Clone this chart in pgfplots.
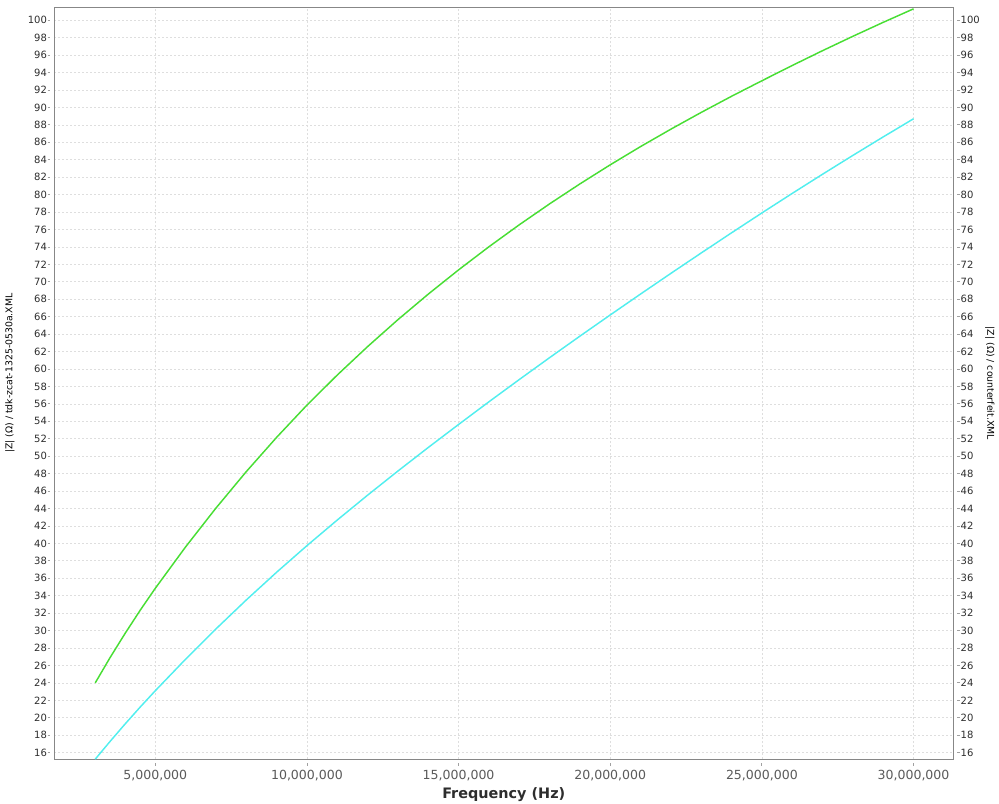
\documentclass[border=0pt]{standalone}
\usepackage{fontspec}
\setmainfont{DejaVu Sans}
\usepackage{pgfplots}
\usepackage{pgfplotstable}
\pgfplotsset{compat=1.18}
\definecolor{zgreen}{RGB}{72,222,52}
\definecolor{zcyan}{RGB}{82,238,238}
\definecolor{gridc}{RGB}{222,222,222}
\definecolor{framec}{RGB}{135,135,135}
\definecolor{axisc}{RGB}{160,160,160}
\definecolor{tickc}{RGB}{45,45,45}
\definecolor{xtickc}{RGB}{90,90,90}

\pgfplotstableread{
f z
3020000 24.0
3500000 26.85
4000000 29.65
4500000 32.32
5000000 34.85
6000000 39.60
7000000 44.05
8000000 48.23
9000000 52.16
10000000 55.86
11000000 59.31
12000000 62.57
13000000 65.66
14000000 68.59
15000000 71.37
16000000 74.02
17000000 76.54
18000000 78.94
19000000 81.23
20000000 83.42
21000000 85.51
22000000 87.51
23000000 89.43
24000000 91.28
25000000 93.06
26000000 94.81
27000000 96.51
28000000 98.16
29000000 99.76
30000000 101.31
}\greendata

\pgfplotstableread{
f z
3020000 15.25
3500000 17.25
4000000 19.27
4500000 21.22
5000000 23.10
6000000 26.72
7000000 30.19
8000000 33.51
9000000 36.69
10000000 39.74
11000000 42.68
12000000 45.53
13000000 48.30
14000000 51.00
15000000 53.64
16000000 56.24
17000000 58.79
18000000 61.30
19000000 63.77
20000000 66.20
21000000 68.60
22000000 70.97
23000000 73.31
24000000 75.62
25000000 77.90
26000000 80.14
27000000 82.34
28000000 84.50
29000000 86.62
30000000 88.70
}\cyandata

\begin{document}
\begin{tikzpicture}
\path[use as bounding box] (0,0) rectangle (749.25pt,602.25pt);
\pgfplotsset{common/.style={
  scale only axis, at={(40.7pt,32.8pt)}, anchor=south west,
  width=674.25pt, height=564pt,
  xmin=1669000, xmax=31310000, ymin=15.24, ymax=101.49,
  ytick={16,18,...,100},
  xtick={5000000,10000000,15000000,20000000,25000000,30000000},
  xticklabels={{5,000,000},{10,000,000},{15,000,000},{20,000,000},{25,000,000},{30,000,000}},
  scaled x ticks=false,
  /pgf/number format/assume math mode=true,
  tick align=outside, major tick length=2pt,
  tick style={draw=axisc, line width=0.6pt},
  yticklabel style={font=\fontsize{7.5}{9}\selectfont, text=tickc},
  xticklabel style={font=\fontsize{9.4}{11}\selectfont, text=xtickc, yshift=-3pt},
  clip=true,
}}
\begin{axis}[common,
  axis line style={draw=framec, line width=0.75pt},
  ytick pos=left, xtick pos=bottom,
  ytick style={xshift=-3pt},
  xtick style={yshift=-3pt},
  grid=major,
  major grid style={draw=gridc, dash pattern=on 1.5pt off 1.5pt, line width=0.5pt},
  xlabel={Frequency (Hz)},
  xlabel style={at={(axis description cs:0.5,-0.0475)}, anchor=center,
    font=\bfseries\fontsize{10.8}{13}\selectfont, text=tickc},
  ylabel={|Z| (Ω) / tdk-zcat-1325-0530a.XML},
  ylabel style={at={(axis description cs:-0.0493,0.5133)}, anchor=center,
    font=\fontsize{7}{8}\selectfont, text=black},
]
\addplot[zgreen, line width=1.1pt] table[x=f, y=z] {\greendata};
\draw[axisc, line width=0.75pt] ([xshift=-3pt]axis description cs:0,0) -- ([xshift=-3pt]axis description cs:0,1);
\draw[axisc, line width=0.75pt] ([yshift=-3pt]axis description cs:0,0) -- ([yshift=-3pt]axis description cs:1,0);
\end{axis}
\begin{axis}[common,
  axis x line=none, axis y line*=right,
  axis line style={draw=framec, line width=0.75pt},
  ytick style={xshift=3pt},
  ylabel={|Z| (Ω) / counterfeit.XML},
  ylabel style={at={(axis description cs:1.0408,0.5)}, anchor=center, rotate=180,
    font=\fontsize{7}{8}\selectfont, text=black},
]
\addplot[zcyan, line width=1.1pt] table[x=f, y=z] {\cyandata};
\draw[axisc, line width=0.75pt] ([xshift=3pt]axis description cs:1,0) -- ([xshift=3pt]axis description cs:1,1);
\end{axis}
\end{tikzpicture}
\end{document}
